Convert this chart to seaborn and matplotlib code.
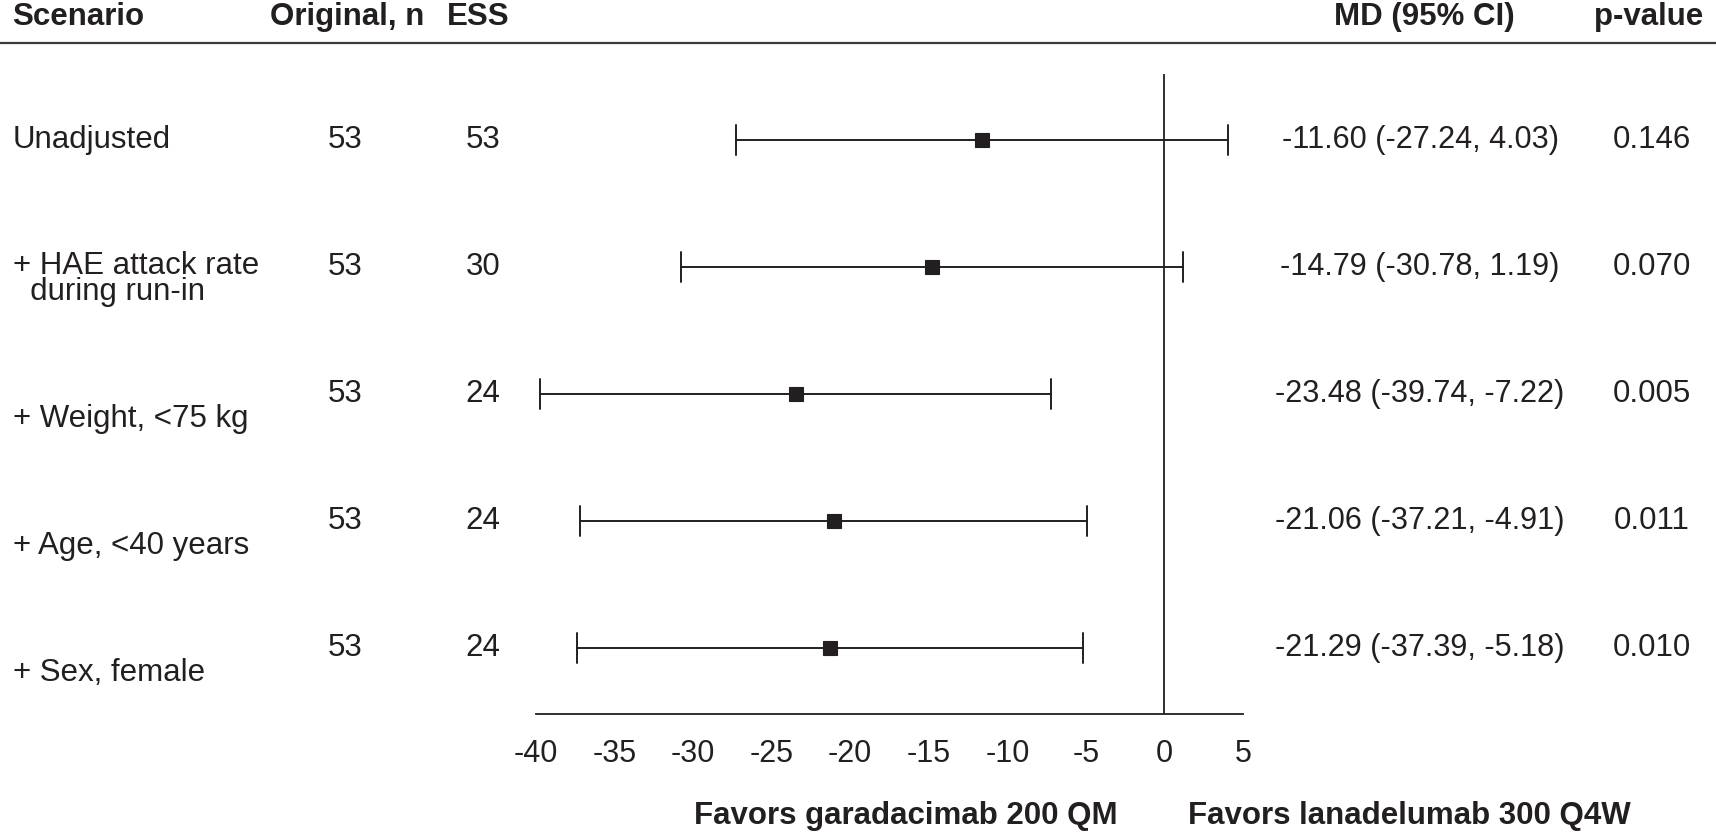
import numpy as np
import pandas as pd
import matplotlib
matplotlib.use('Agg')
import matplotlib.pyplot as plt
import matplotlib.transforms as mtransforms
from matplotlib.lines import Line2D
import seaborn as sns

# ==================== Data ====================
scenarios = ['Unadjusted', '+ HAE attack rate\n  during run-in', '+ Weight, <75 kg',
             '+ Age, <40 years', '+ Sex, female']
original_n = [53, 53, 53, 53, 53]
ess = [53, 30, 24, 24, 24]
md = [-11.60, -14.79, -23.48, -21.06, -21.29]
ci_low = [-27.24, -30.78, -39.74, -37.21, -37.39]
ci_high = [4.03, 1.19, -7.22, -4.91, -5.18]
p_values = ['0.146', '0.070', '0.005', '0.011', '0.010']
x_ticks = [-40, -35, -30, -25, -20, -15, -10, -5, 0, 5]

# long-form table: median of (low, md, high) = md, full range = CI
rows = []
for s, lo, m, hi in zip(scenarios, ci_low, md, ci_high):
    for v in (lo, m, hi):
        rows.append({'scenario': s, 'value': v})
df = pd.DataFrame(rows)

# ==================== Style ====================
sns.set_style('white')
plt.rcParams['font.family'] = ['Liberation Sans', 'DejaVu Sans']
plt.rcParams['axes.unicode_minus'] = False
ink = '#231f20'
head_font = dict(family=['Liberation Sans', 'DejaVu Sans'], weight='bold', fontsize=22.5)
body_size = 22.5

W, H = 1716, 834
fig = plt.figure(figsize=(W / 100, H / 100), dpi=100)
# axes spans x from -40 to 5 and the row area
ax = fig.add_axes([536 / W, 1 - 714 / H, (1243 - 536) / W, (714 - 74) / H])

sns.pointplot(data=df, x='value', y='scenario', order=scenarios, orient='h',
              estimator='median', errorbar=('pi', 100), color=ink,
              marker='s', markersize=10, markeredgewidth=0.8, linestyle='none',
              capsize=0.24, err_kws={'linewidth': 1.4}, ax=ax)

ax.set_xlim(-40, 5)
ax.set_ylim(len(scenarios) - 0.48, -0.52)
ax.axvline(0, color=ink, linewidth=1.3, zorder=0)

for side in ['top', 'right', 'left']:
    ax.spines[side].set_visible(False)
ax.spines['bottom'].set_color(ink)
ax.spines['bottom'].set_linewidth(1.3)
ax.set_xticks(x_ticks)
ax.set_xticklabels([str(t) for t in x_ticks], fontsize=22, color=ink)
ax.tick_params(axis='x', direction='out', length=12, width=1.3, color=ink, pad=6)
ax.set_yticks([])
ax.set_xlabel('')
ax.set_ylabel('')

# ==================== Table text ====================
tr = mtransforms.blended_transform_factory(fig.transFigure, ax.transData)
label_dy = [0, 0.095, 0.2, 0.2, 0.2]
for i, s in enumerate(scenarios):
    ax.text(13 / W, i + label_dy[i], s, transform=tr, ha='left', va='center',
            fontsize=body_size, color=ink, linespacing=0.85)
    ax.text(345 / W, i, str(original_n[i]), transform=tr, ha='center', va='center',
            fontsize=body_size, color=ink)
    ax.text(483 / W, i, str(ess[i]), transform=tr, ha='center', va='center',
            fontsize=body_size, color=ink)
    ax.text(1420 / W, i, f'{md[i]:.2f} ({ci_low[i]:.2f}, {ci_high[i]:.2f})', transform=tr,
            ha='center', va='center', fontsize=22.1, color=ink)
    ax.text(1652 / W, i, p_values[i], transform=tr, ha='center', va='center',
            fontsize=body_size, color=ink)

# header
hy = 1 - 17 / H
fig.text(12 / W, hy, 'Scenario', ha='left', va='center', color=ink, **head_font)
fig.text(270 / W, hy, 'Original, n', ha='left', va='center', color=ink, **head_font)
fig.text(447 / W, hy, 'ESS', ha='left', va='center', color=ink, **head_font)
fig.text(1424 / W, hy, 'MD (95% CI)', ha='center', va='center', color=ink, **head_font)
fig.text(1649 / W, hy, 'p-value', ha='center', va='center', color=ink, **head_font)
fig.add_artist(Line2D([0, 1], [1 - 43 / H, 1 - 43 / H], transform=fig.transFigure,
                      color='#3a3a3a', linewidth=1.6))

# direction labels
fig.text(1118 / W, 1 - 816 / H, 'Favors garadacimab 200 QM', ha='right', va='center',
         color=ink, **head_font)
fig.text(1188 / W, 1 - 816 / H, 'Favors lanadelumab 300 Q4W', ha='left', va='center',
         color=ink, **head_font)

plt.savefig('out.png', dpi=100)
plt.close()
